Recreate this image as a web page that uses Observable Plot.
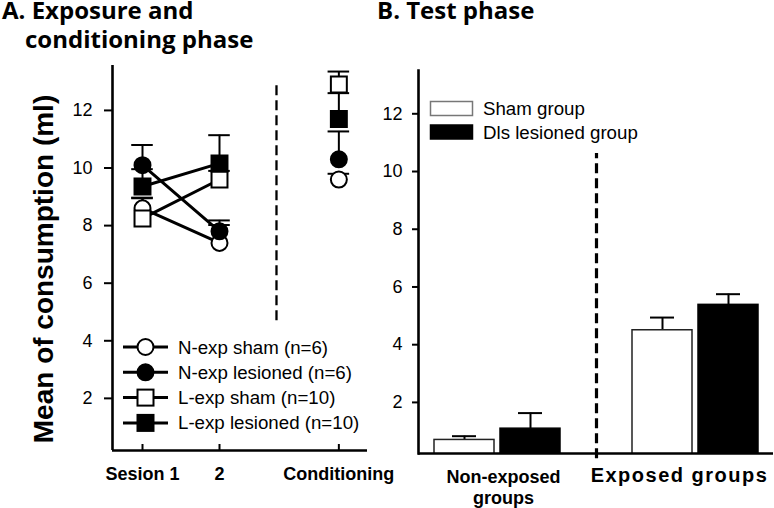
<!DOCTYPE html>
<html>
<head>
<meta charset="utf-8">
<script src="https://cdn.jsdelivr.net/npm/d3@7"></script>
<script src="https://cdn.jsdelivr.net/npm/@observablehq/plot@0.6"></script>
<style>
  html, body { margin: 0; padding: 0; background: #fff; }
  #wrap { position: relative; width: 774px; height: 508px; overflow: hidden; background: #fff; }
  .title { position: absolute; font-family: "Open Sans", sans-serif; font-weight: 700; font-size: 24px; line-height: 20px; color: #000; white-space: nowrap; }
  #wrap > svg { position: absolute; top: 0; }
</style>
</head>
<body>
<div id="wrap">
  <div class="title" style="left:2px; top:0px;">A. Exposure and</div>
  <div class="title" style="left:25px; top:29px;">conditioning phase</div>
  <div class="title" style="left:377px; top:0px;">B. Test phase</div>
</div>
<script>
// ---------------- DATA ----------------
const phases = ["Sesion 1", "2", "Conditioning"];
const seriesNames = ["N-exp sham (n=6)", "N-exp lesioned (n=6)", "L-exp sham (n=10)", "L-exp lesioned (n=10)"];
const nExpShamMean = [8.6, 7.4, 9.6];
const nExpShamSem  = [0.37, 0.62, 0.2];
const nExpLesMean  = [10.1, 7.8, 10.3];
const nExpLesSem   = [0.7, 0.38, 0.97];
const lExpShamMean = [8.25, 9.6, 12.9];
const lExpShamSem  = [0.7, 0.3, 0.45];
const lExpLesMean  = [9.36, 10.16, 11.7];
const lExpLesSem   = [0.6, 0.98, 0.9];

const testGroups = ["Non-exposed groups", "Exposed groups"];
const testGroupLabels = ["Non-exposed\ngroups", "Exposed groups"];
const conditions = ["Sham group", "Dls lesioned group"];
const shamMean = [0.7, 4.5];
const shamSem  = [0.13, 0.44];
const lesMean  = [1.09, 5.38];
const lesSem   = [0.54, 0.37];

const yTicks = [2, 4, 6, 8, 10, 12];
const yLabel = "Mean of consumption (ml)";

// ---------------- LAYOUT / STYLE ----------------
const FONT = "'Liberation Sans', Arial, sans-serif";
const phaseX = [1, 2, 3.55];           // x positions of the phases
const dividerX = 2.74;                 // dashed separator (panel A)
const xDomL = [0.6104, 3.922];
const yDomL = [0.19, 13.56];
const yDomR = [0.23, 13.5];
const seriesStyle = [
  {symbol: "circle", r: 8, fill: "white"},
  {symbol: "circle", r: 8, fill: "black"},
  {symbol: "square", r: 9, fill: "white"},
  {symbol: "square", r: 9, fill: "black"}
];
const means = [nExpShamMean, nExpLesMean, lExpShamMean, lExpLesMean];
const sems  = [nExpShamSem, nExpLesSem, lExpShamSem, lExpLesSem];

const pts = [];
seriesNames.forEach((s, si) => phases.forEach((p, i) => {
  pts.push({s, si, i, x: phaseX[i], v: means[si][i], e: sems[si][i]});
}));

const plotStyle = {fontFamily: FONT, fontSize: "18px", color: "#000", background: "transparent", overflow: "visible"};

// ---------------- PANEL A ----------------
const left = Plot.plot({
  width: 390, height: 508,
  marginLeft: 112, marginRight: 23, marginTop: 65, marginBottom: 58,
  style: plotStyle,
  x: {domain: xDomL},
  y: {domain: yDomL},
  marks: [
    Plot.ruleX([dividerX], {y1: 4.7, y2: 13.0, strokeWidth: 2.3, strokeDasharray: "10,5"}),
    Plot.ruleX(pts, {x: "x", y1: "v", y2: d => d.v + d.e, strokeWidth: 2}),
    Plot.ruleY(pts, {y: d => d.v + d.e, x1: d => d.x - 0.14, x2: d => d.x + 0.14, strokeWidth: 2}),
    Plot.line(pts.filter(d => d.i < 2), {x: "x", y: "v", z: "s", stroke: "black", strokeWidth: 3}),
    ...seriesNames.map((s, si) => Plot.dot(pts.filter(d => d.si === si), {
      x: "x", y: "v", symbol: seriesStyle[si].symbol, r: seriesStyle[si].r,
      fill: seriesStyle[si].fill, stroke: "black", strokeWidth: 2
    })),
    Plot.ruleX([xDomL[0]], {stroke: "black", strokeWidth: 2.6}),
    Plot.ruleY([yDomL[0]], {stroke: "black", strokeWidth: 2.6}),
    Plot.axisY({ticks: yTicks, tickSize: 8, tickPadding: 12, strokeWidth: 2, fontSize: 18, label: null}),
    Plot.axisX({ticks: phaseX, tickSize: 6, dy: -6, tickFormat: () => "", strokeWidth: 2, label: null}),
    Plot.axisX({ticks: phaseX, tickSize: 0, tickPadding: 17, tickFormat: d => phases[phaseX.indexOf(d)],
      fontSize: 18, fontWeight: "bold", label: null}),
    Plot.text([yLabel], {frameAnchor: "left", textAnchor: "middle", rotate: -90, dx: -68, dy: 11,
      fontSize: 28, fontWeight: "bold"})
  ]
});
left.style.left = "0px";
document.getElementById("wrap").appendChild(left);

// ---------------- PANEL B ----------------
const slots = [];
testGroups.forEach((g, i) => { if (i) slots.push("gap"); slots.push(g + "|sham", g + "|les"); });
const bars = testGroups.flatMap((g, i) => [
  {key: g + "|sham", cond: 0, v: shamMean[i], e: shamSem[i]},
  {key: g + "|les",  cond: 1, v: lesMean[i],  e: lesSem[i]}
]);

const right = Plot.plot({
  width: 394, height: 508,
  marginLeft: 38, marginRight: 1, marginTop: 70, marginBottom: 55,
  style: plotStyle,
  x: {type: "band", domain: slots, paddingInner: 0.098, paddingOuter: 0.218, axis: null},
  y: {domain: yDomR},
  marks: [
    Plot.ruleX(bars, {x: "key", y1: "v", y2: d => d.v + d.e, strokeWidth: 2}),
    Plot.tickY(bars, {x: "key", y: d => d.v + d.e, insetLeft: 18, insetRight: 18, strokeWidth: 2}),
    Plot.barY(bars.filter(d => d.cond === 0), {x: "key", y: "v", fill: "white", stroke: "#222", strokeWidth: 1.5, clip: true}),
    Plot.barY(bars.filter(d => d.cond === 1), {x: "key", y: "v", fill: "black", stroke: "black", strokeWidth: 1.5, clip: true}),
    Plot.ruleX(["gap"], {x: d => d, y1: 0.05, y2: 10.62, strokeWidth: 3.2, strokeDasharray: "10,5"}),
    Plot.ruleY([yDomR[0]], {stroke: "black", strokeWidth: 2.6}),
    Plot.frame({anchor: "left", stroke: "black", strokeWidth: 2.6}),
    Plot.axisY({ticks: yTicks, tickSize: 6, tickPadding: 10, strokeWidth: 2, fontSize: 18, label: null}),
    Plot.text([testGroups[0]], {x: g => g + "|sham", text: () => testGroupLabels[0], frameAnchor: "bottom",
      lineAnchor: "top", dy: 14, dx: 39, lineHeight: 1.2, fontSize: 18, fontWeight: "bold"}),
    Plot.text([testGroups[1]], {x: g => g + "|sham", text: () => testGroupLabels[1], frameAnchor: "bottom",
      lineAnchor: "top", dy: 14, dx: 17, fontSize: 20, fontWeight: "bold"})
  ]
});
right.style.left = "380px";
d3.select(right).selectAll("text").filter(function() { return this.textContent === "Exposed groups"; })
  .attr("letter-spacing", "1.5px");
document.getElementById("wrap").appendChild(right);

// ---------------- LEGENDS ----------------
const ov = d3.select("#wrap").append("svg").attr("width", 774).attr("height", 508)
  .style("left", "0px").style("pointer-events", "none")
  .attr("font-family", FONT).attr("font-size", 18.7);

seriesNames.forEach((name, si) => {
  const g = ov.append("g").attr("transform", `translate(0,${347 + si * 25.3})`);
  g.append("line").attr("x1", 123).attr("x2", 168).attr("stroke", "black").attr("stroke-width", 3);
  const st = seriesStyle[si];
  if (st.symbol === "circle") {
    g.append("circle").attr("cx", 145.5).attr("r", 8).attr("fill", st.fill).attr("stroke", "black").attr("stroke-width", 2);
  } else {
    g.append("rect").attr("x", 137.5).attr("y", -8).attr("width", 16).attr("height", 16)
      .attr("fill", st.fill).attr("stroke", "black").attr("stroke-width", 2);
  }
  g.append("text").attr("x", 178).attr("dy", "0.35em").text(name);
});

const condFill = ["white", "black"];
const condStroke = ["#777", "black"];
conditions.forEach((c, ci) => {
  const g = ov.append("g").attr("transform", `translate(0,${108.5 + ci * 23.5})`);
  g.append("rect").attr("x", 430.5).attr("y", -7).attr("width", 42).attr("height", 14)
    .attr("fill", condFill[ci]).attr("stroke", condStroke[ci]).attr("stroke-width", 1.5);
  g.append("text").attr("x", 483).attr("dy", "0.35em").text(c);
});
</script>
</body>
</html>
